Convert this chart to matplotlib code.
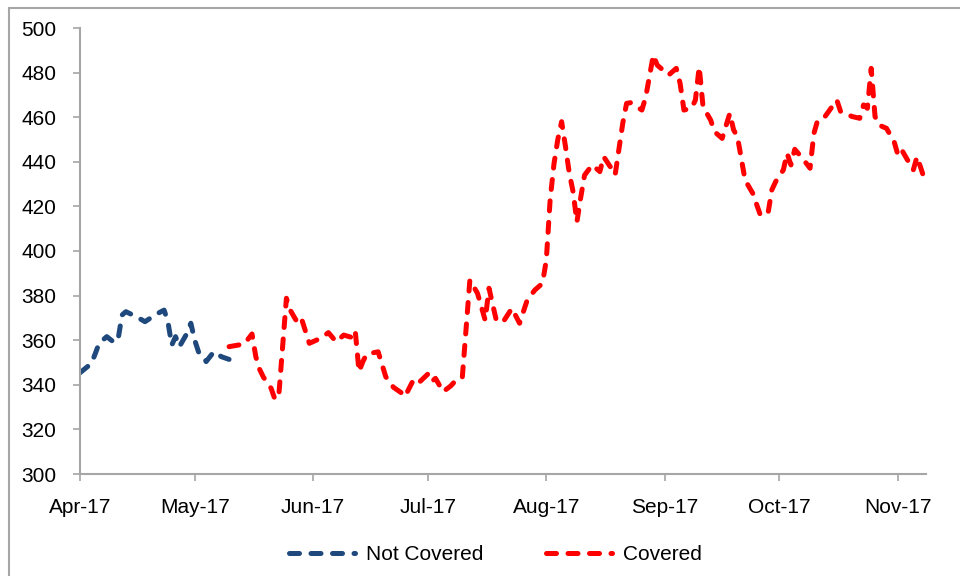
import matplotlib
matplotlib.use("Agg")
import matplotlib.pyplot as plt
import matplotlib.dates as mdates
import numpy as np
import pandas as pd
from matplotlib.patches import Rectangle

plt.rcParams["font.family"] = ["Liberation Sans Narrow", "Liberation Sans", "DejaVu Sans"]

# values (2017)
not_covered_dates = [
    "04-01", "04-04", "04-05", "04-06", "04-08", "04-10", "04-11", "04-12",
    "04-13", "04-16", "04-18", "04-21", "04-23", "04-24", "04-25", "04-26",
    "04-27", "04-29", "04-30", "05-01", "05-02", "05-03", "05-04", "05-06",
    "05-08", "05-10",
]
not_covered_values = [
    345.4, 349.6, 354.0, 358.6, 361.6, 358.9, 360.8, 371.3,
    372.8, 370.3, 368.3, 371.7, 373.5, 368.3, 357.8, 361.6,
    357.1, 363.1, 367.6, 360.1, 354.8, 353.4, 350.4, 354.8,
    352.6, 351.4,
]

covered_dates = [
    "05-10", "05-14", "05-16", "05-17", "05-18", "05-19", "05-21", "05-22",
    "05-23", "05-25", "05-26", "05-27", "05-28", "05-29", "05-31", "06-03",
    "06-05", "06-07", "06-09", "06-11", "06-12", "06-13", "06-14", "06-15",
    "06-18", "06-20", "06-22", "06-24", "06-25", "06-27", "06-28", "07-01",
    "07-02", "07-03", "07-05", "07-07", "07-08", "07-10", "07-12", "07-14",
    "07-16", "07-17", "07-19", "07-21", "07-23", "07-25", "07-27", "07-29",
    "07-31", "08-01", "08-02", "08-03", "08-04", "08-05", "08-06", "08-07",
    "08-08", "08-09", "08-10", "08-11", "08-13", "08-15", "08-16", "08-18",
    "08-19", "08-21", "08-22", "08-23", "08-26", "08-27", "08-29", "08-30",
    "09-02", "09-04", "09-05", "09-06", "09-08", "09-09", "09-10", "09-11",
    "09-13", "09-14", "09-16", "09-18", "09-19", "09-20", "09-22", "09-24",
    "09-26", "09-28", "09-29", "09-30", "10-02", "10-03", "10-04", "10-05",
    "10-07", "10-09", "10-10", "10-11", "10-13", "10-16", "10-17", "10-20",
    "10-22", "10-23", "10-24", "10-25", "10-26", "10-27", "10-29", "10-31",
    "11-01", "11-02", "11-03", "11-05", "11-06", "11-07", "11-08",
]
covered_values = [
    357.1, 358.3, 362.8, 352.6, 346.9, 343.4, 338.4, 333.5,
    335.0, 378.8, 373.5, 370.5, 367.6, 369.4, 358.6, 360.9,
    363.4, 359.3, 362.3, 361.3, 364.3, 345.9, 350.4, 353.8,
    354.8, 343.6, 338.9, 336.5, 334.7, 341.4, 339.9, 344.8,
    341.4, 342.9, 336.9, 339.5, 341.4, 342.9, 387.0, 381.0,
    369.0, 383.3, 368.3, 369.0, 374.3, 367.6, 378.0, 382.5,
    385.5, 396.0, 423.0, 439.0, 450.0, 458.0, 447.0, 435.0,
    426.6, 413.0, 424.0, 434.0, 438.6, 435.6, 442.3, 437.1,
    434.1, 457.3, 466.2, 466.5, 463.2, 469.0, 487.9, 483.4,
    478.9, 481.9, 475.2, 463.2, 464.0, 467.7, 482.6, 464.7,
    458.7, 453.5, 450.5, 461.7, 454.3, 451.3, 431.8, 425.9,
    416.1, 416.9, 427.4, 431.1, 436.3, 443.8, 438.6, 445.6,
    441.6, 437.1, 452.7, 458.7, 460.5, 467.7, 462.5, 460.3,
    459.5, 465.5, 464.0, 481.9, 460.3, 456.5, 455.0, 449.0,
    443.0, 445.3, 442.3, 436.3, 442.3, 437.1, 431.8,
]

month_ticks = ["04-01", "05-01", "06-01", "07-01", "08-01", "09-01", "10-01", "11-01"]
y_ticks = list(range(300, 501, 20))


def to_dates(md):
    return pd.to_datetime(["2017-" + s for s in md])


fig = plt.figure(figsize=(9.6, 5.76), dpi=100)
ax = fig.add_axes([80 / 960, 1 - 474 / 576, (926 - 80) / 960, (474 - 28) / 576])

# outer grey frame (chart box, partly cut off)
fig.patches.append(Rectangle((9 / 960, -0.1), 1.2, 1 - 8 / 576 + 0.1,
                             transform=fig.transFigure, fill=False,
                             edgecolor="#a6a6a6", linewidth=1.5))

style = dict(linewidth=3.6, linestyle=(0, (2.0, 2.3)), dash_capstyle="round",
             solid_capstyle="round")
ax.plot(to_dates(not_covered_dates), not_covered_values, color="#1f497d",
        label="Not Covered", **style)
ax.plot(to_dates(covered_dates), covered_values, color="#ff0000",
        label="Covered", **style)

ax.set_ylim(300, 500)
ax.set_yticks(y_ticks)
ax.set_xlim(pd.Timestamp("2017-04-01"), pd.Timestamp("2017-11-08 08:00"))
ax.set_xticks(to_dates(month_ticks))
ax.xaxis.set_major_formatter(mdates.DateFormatter("%b-%y"))

for side in ["top", "right"]:
    ax.spines[side].set_visible(False)
for side in ["left", "bottom"]:
    ax.spines[side].set_color("#a6a6a6")
    ax.spines[side].set_linewidth(1.5)

ax.tick_params(axis="both", direction="out", length=5, width=1.2,
               color="#a6a6a6", labelsize=15, labelcolor="black")
ax.tick_params(axis="y", pad=12)
ax.tick_params(axis="x", pad=12)

fig.legend(loc="center", bbox_to_anchor=(495 / 960, 1 - 555 / 576), ncol=2,
           frameon=False, fontsize=15, handlelength=3.2, handletextpad=0.5,
           columnspacing=3.0)

fig.savefig("out.png", dpi=100)
